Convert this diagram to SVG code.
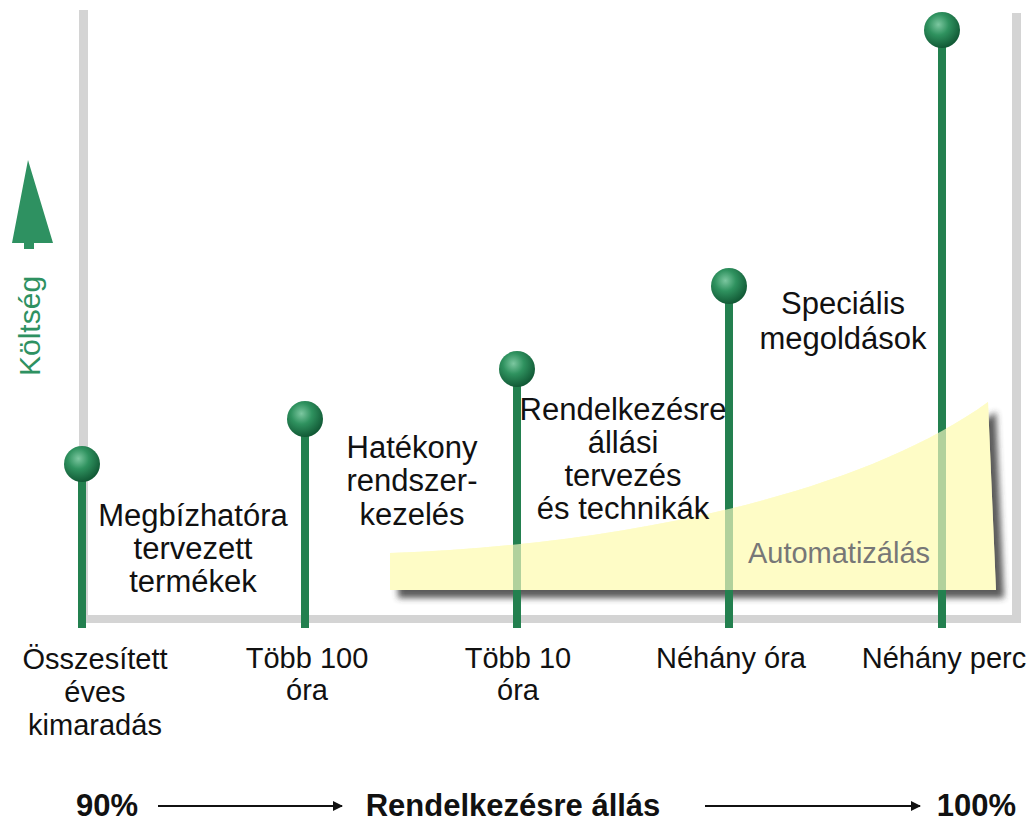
<svg xmlns="http://www.w3.org/2000/svg" width="1029" height="824" viewBox="0 0 1029 824">
<style>
.lbl{font-family:"Liberation Sans",Arial,sans-serif;font-size:29px;fill:#111;text-anchor:middle}
.in{font-size:31px}
.bold{font-family:"Liberation Sans",Arial,sans-serif;font-size:31px;font-weight:bold;fill:#111}
.frame{fill:#d4d4d4}
.stem{fill:#23804f}
.auto{fill:#fefcc6}
</style>
<defs>
<radialGradient id="ball" cx="0.4" cy="0.35" r="0.65">
<stop offset="0" stop-color="#7cc7a0"/>
<stop offset="0.45" stop-color="#2f925f"/>
<stop offset="1" stop-color="#125a36"/>
</radialGradient>
<filter id="shadow" x="-10%" y="-20%" width="125%" height="150%">
<feGaussianBlur stdDeviation="3"/>
</filter>
<marker id="ah" viewBox="0 0 10 10" refX="9" refY="5" markerWidth="6" markerHeight="5" orient="auto" markerUnits="strokeWidth">
<path d="M0,0 L10,5 L0,10 Z" fill="#111"/>
</marker>
<path id="autoShape" d="M390,553 C620,545 860,495 988,402 L996,590 L390,590 Z"/>
</defs>
<rect width="1029" height="824" fill="#fff"/>
<g id="frame">
<rect class="frame" x="79" y="10" width="9" height="613"/>
<rect class="frame" x="1012" y="13" width="9" height="610"/>
<rect class="frame" x="79" y="615" width="942" height="8"/>
</g>
<g id="cost-axis">
<path d="M28,160 L53,243 L34,243 L34,249 L24,249 L24,243 L12,243 Z" fill="#2e9161"/>
<text transform="translate(40,376) rotate(-90)" font-family="Liberation Sans,Arial,sans-serif" font-size="30" fill="#2e9161">Költség</text>
</g>
<g id="automation-base">
<path d="M398,563 C628,555 868,505 996,412 L1004,598 L398,598 Z" fill="#333" opacity="0.8" filter="url(#shadow)"/>
<use href="#autoShape" class="auto"/>
</g>
<g id="stems">
<rect class="stem" x="78" y="465" width="8" height="163"/>
<rect class="stem" x="301" y="420" width="8" height="208"/>
<rect class="stem" x="513" y="370" width="8" height="258"/>
<rect class="stem" x="725" y="287" width="8" height="341"/>
<rect class="stem" x="938" y="30" width="8" height="598"/>
</g>
<g id="automation">
<use href="#autoShape" class="auto" opacity="0.65"/>
<text class="lbl" x="839" y="563" style="fill:#777">Automatizálás</text>
</g>
<g id="balls">
<circle cx="82" cy="464" r="18" fill="url(#ball)"/>
<circle cx="305" cy="419" r="18" fill="url(#ball)"/>
<circle cx="517" cy="369" r="18" fill="url(#ball)"/>
<circle cx="729" cy="286" r="18" fill="url(#ball)"/>
<circle cx="942" cy="30" r="18" fill="url(#ball)"/>
</g>
<g id="node-reliable">
<text class="lbl in" x="193" y="526">Megbízhatóra</text>
<text class="lbl in" x="193" y="559">tervezett</text>
<text class="lbl in" x="193" y="592">termékek</text>
</g>
<g id="node-mgmt">
<text class="lbl in" x="412" y="458">Hatékony</text>
<text class="lbl in" x="412" y="491">rendszer-</text>
<text class="lbl in" x="412" y="525">kezelés</text>
</g>
<g id="node-planning">
<text class="lbl in" x="623" y="420">Rendelkezésre</text>
<text class="lbl in" x="623" y="453">állási</text>
<text class="lbl in" x="623" y="486">tervezés</text>
<text class="lbl in" x="623" y="519">és technikák</text>
</g>
<g id="node-special">
<text class="lbl in" x="843" y="314">Speciális</text>
<text class="lbl in" x="843" y="349">megoldások</text>
</g>
<g id="x-labels">
<text class="lbl" x="95" y="669">Összesített</text>
<text class="lbl" x="95" y="702">éves</text>
<text class="lbl" x="95" y="735">kimaradás</text>
<text class="lbl" x="307" y="668">Több 100</text>
<text class="lbl" x="307" y="700">óra</text>
<text class="lbl" x="518" y="668">Több 10</text>
<text class="lbl" x="518" y="700">óra</text>
<text class="lbl" x="731" y="668">Néhány óra</text>
<text class="lbl" x="944" y="668">Néhány perc</text>
</g>
<g id="availability-axis">
<text class="bold" x="76" y="816">90%</text>
<text class="bold" x="513" y="816" text-anchor="middle">Rendelkezésre állás</text>
<text class="bold" x="1016" y="816" text-anchor="end">100%</text>
</g>
<g id="connectors">
<line x1="158" y1="806" x2="342" y2="806" stroke="#111" stroke-width="2" marker-end="url(#ah)"/>
<line x1="705" y1="806" x2="920" y2="806" stroke="#111" stroke-width="2" marker-end="url(#ah)"/>
</g>
</svg>
